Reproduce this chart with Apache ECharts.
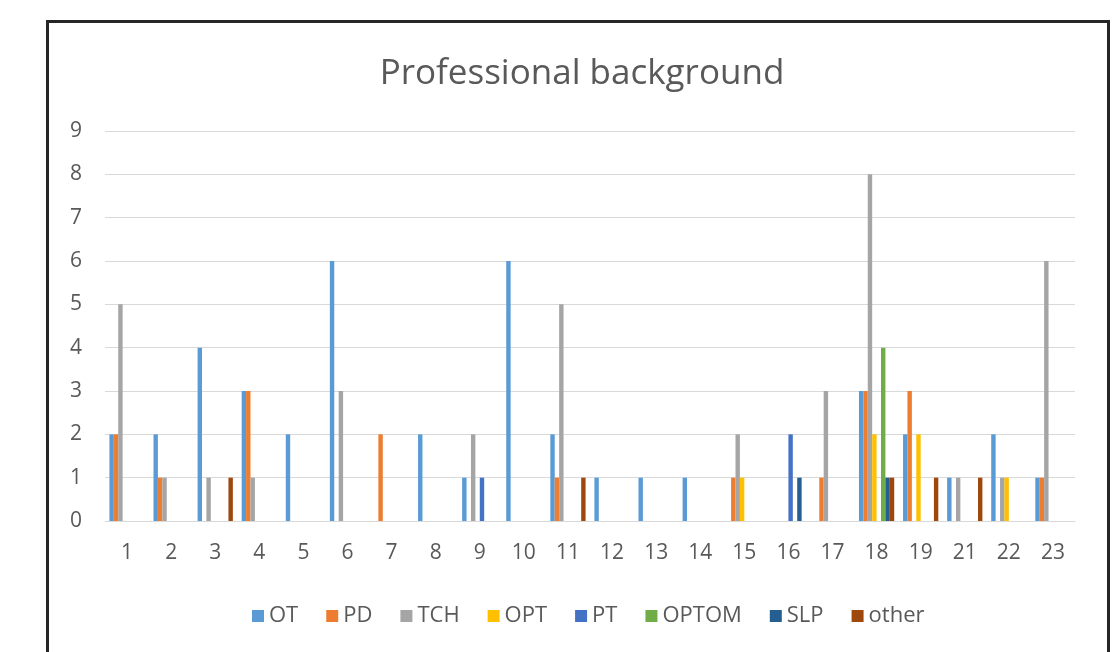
<!DOCTYPE html>
<html>
<head>
<meta charset="utf-8">
<script src="https://cdn.jsdelivr.net/npm/echarts@6/dist/echarts.min.js"></script>
<style>
  html, body { margin: 0; padding: 0; background: #fff; }
  .wrap { position: relative; width: 1116px; height: 652px; }
  #chart { width: 1116px; height: 652px; }
  .frame {
    position: absolute;
    left: 46px;
    top: 20px;
    width: 1058px;
    height: 700px;
    border: 3px solid #262626;
    pointer-events: none;
  }
</style>
</head>
<body>
<div class="wrap">
  <div id="chart"></div>
  <div class="frame"></div>
</div>
<script>
// 20 is not in the source chart
const categories = ['1', '2', '3', '4', '5', '6', '7', '8', '9', '10', '11', '12', '13', '14', '15', '16', '17', '18', '19', '21', '22', '23']

const ot    = [2, 2, 4, 3, 2, 6, 0, 2, 1, 6, 2, 1, 1, 1, 0, 0, 0, 3, 2, 1, 2, 1]
const pd    = [2, 1, 0, 3, 0, 0, 2, 0, 0, 0, 1, 0, 0, 0, 1, 0, 1, 3, 3, 0, 0, 1]
const tch   = [5, 1, 1, 1, 0, 3, 0, 0, 2, 0, 5, 0, 0, 0, 2, 0, 3, 8, 0, 1, 1, 6]
const opt   = [0, 0, 0, 0, 0, 0, 0, 0, 0, 0, 0, 0, 0, 0, 1, 0, 0, 2, 2, 0, 1, 0]
const pt    = [0, 0, 0, 0, 0, 0, 0, 0, 1, 0, 0, 0, 0, 0, 0, 2, 0, 0, 0, 0, 0, 0]
const optom = [0, 0, 0, 0, 0, 0, 0, 0, 0, 0, 0, 0, 0, 0, 0, 0, 0, 4, 0, 0, 0, 0]
const slp   = [0, 0, 0, 0, 0, 0, 0, 0, 0, 0, 0, 0, 0, 0, 0, 1, 0, 1, 0, 0, 0, 0]
const other = [0, 0, 1, 0, 0, 0, 0, 0, 0, 0, 1, 0, 0, 0, 0, 0, 0, 1, 1, 1, 0, 0]

const seriesNames = ['OT', 'PD', 'TCH', 'OPT', 'PT', 'OPTOM', 'SLP', 'other']
const seriesData = [ot, pd, tch, opt, pt, optom, slp, other]

const textColor = '#595959'
const font = '"Open Sans", "Noto Sans", sans-serif'

const chartDom = echarts.init(document.getElementById('chart'))

const option = {
  animation: false,
  color: ['#5B9BD5', '#ED7D31', '#A5A5A5', '#FFC000', '#4472C4', '#70AD47', '#255E91', '#9E480E'],
  title: {
    text: 'Professional background',
    left: 577,
    textAlign: 'center',
    top: 52,
    textStyle: {
      color: textColor,
      fontFamily: font,
      fontSize: 35,
      fontWeight: 400,
    },
  },
  legend: {
    bottom: 20,
    left: 247,
    icon: 'rect',
    itemWidth: 12,
    itemHeight: 12,
    itemGap: 28,
    selectedMode: false,
    textStyle: {
      color: textColor,
      fontFamily: font,
      fontSize: 22,
    },
    data: seriesNames,
  },
  grid: {
    left: 105,
    right: 41,
    top: 131,
    bottom: 131,
  },
  xAxis: {
    type: 'category',
    data: categories,
    axisTick: { show: false },
    axisLine: { lineStyle: { color: '#D9D9D9', width: 1 } },
    axisLabel: {
      color: textColor,
      fontFamily: font,
      fontSize: 21,
      margin: 22,
    },
  },
  yAxis: {
    type: 'value',
    min: 0,
    max: 9,
    interval: 1,
    axisLine: { show: false },
    axisTick: { show: false },
    splitLine: { lineStyle: { color: '#D9D9D9', width: 1 } },
    axisLabel: {
      color: textColor,
      fontFamily: font,
      fontSize: 21,
      margin: 23,
    },
  },
  series: seriesNames.map((name, i) => ({
    name: name,
    type: 'bar',
    data: seriesData[i],
    barGap: '0%',
    barCategoryGap: '20%',
  })),
}

chartDom.setOption(option)
</script>
</body>
</html>
